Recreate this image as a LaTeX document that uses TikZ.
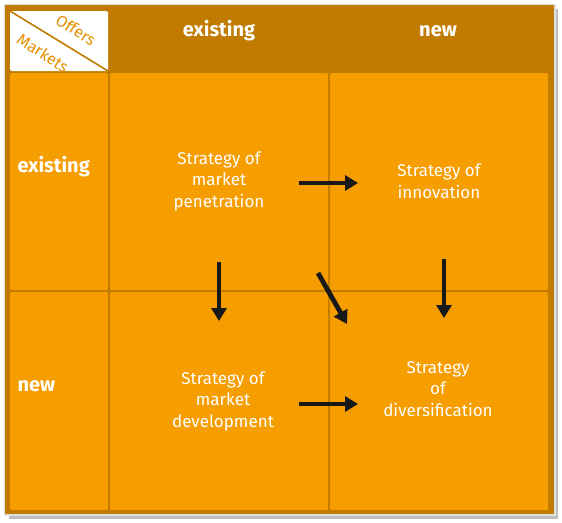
\documentclass[tikz,border=0pt]{standalone}
\usepackage{fontspec}
\setmainfont{Fira Sans}
\usetikzlibrary{arrows.meta}
\definecolor{frameBrown}{HTML}{C17B00}
\definecolor{cellOrange}{HTML}{F69D00}
\definecolor{labelOrange}{HTML}{E58F00}
\tikzset{
  x=1pt, y=-1pt,
  cell/.style={fill=cellOrange, rounded corners=1.5pt},
  celltext/.style={text=white, align=center, font=\fontsize{17}{21.5}\selectfont},
  headtext/.style={text=white, font=\fontsize{20}{22}\selectfont\bfseries},
  cornertext/.style={text=labelOrange, rotate=-33, inner sep=0pt, font=\fontsize{16}{18}\selectfont},
  flow/.style={-{Triangle[length=13pt,width=15pt]}, line width=4.8pt, draw=black!90},
}
\begin{document}
\begin{tikzpicture}
\useasboundingbox (0,0) rectangle (562,522);
% drop shadow and frame
\fill[black!25] (9,9) rectangle (558,519);
\fill[black!12] (4,4) rectangle (556,516);
\fill[frameBrown] (5,5) rectangle (554,514);
% corner header cell
\fill[white, rounded corners=1.5pt] (10,11) rectangle (108,71);
\coordinate (cTL) at (10,11);
\coordinate (cBR) at (108,71);
\draw[frameBrown, line width=1.6pt] (cTL) -- (cBR);
\node[cornertext] (offers) at (76,30) {Offers};
\node[cornertext] (markets) at (43,53) {Markets};
% column headings
\node[headtext] (hExist) at (219,31) {existing};
\node[headtext] (hNew) at (438,31) {new};
% row heading cells
\fill[cell] (10,73) rectangle (108,290);
\fill[cell] (10,292) rectangle (108,510);
\node[headtext, anchor=west] (rExist) at (14,167) {existing};
\node[headtext, anchor=west] (rNew) at (14,386) {new};
% matrix cells
\fill[cell] (110,73) rectangle (328,290);
\fill[cell] (330,73) rectangle (548,290);
\fill[cell] (110,292) rectangle (328,510);
\fill[cell] (330,292) rectangle (548,510);
% strategies
\node[celltext] (pen) at (219,181) {Strategy of\\market\\penetration};
\node[celltext] (inn) at (439,181) {Strategy of\\innovation};
\node[celltext] (dev) at (223,401) {Strategy of\\market\\development};
\node[celltext] (div) at (438,389) {Strategy\\of\\diversification};
% arrows
\coordinate (a1s) at (299,183); \coordinate (a1e) at (358,183);
\coordinate (a2s) at (299,404); \coordinate (a2e) at (358,404);
\coordinate (a3s) at (219,262); \coordinate (a3e) at (219,321);
\coordinate (a4s) at (444,259); \coordinate (a4e) at (444,318);
\coordinate (a5s) at (318,273); \coordinate (a5e) at (347,324);
\draw[flow] (a1s) -- (a1e);
\draw[flow] (a2s) -- (a2e);
\draw[flow] (a3s) -- (a3e);
\draw[flow] (a4s) -- (a4e);
\draw[flow] (a5s) -- (a5e);
\end{tikzpicture}
\end{document}
